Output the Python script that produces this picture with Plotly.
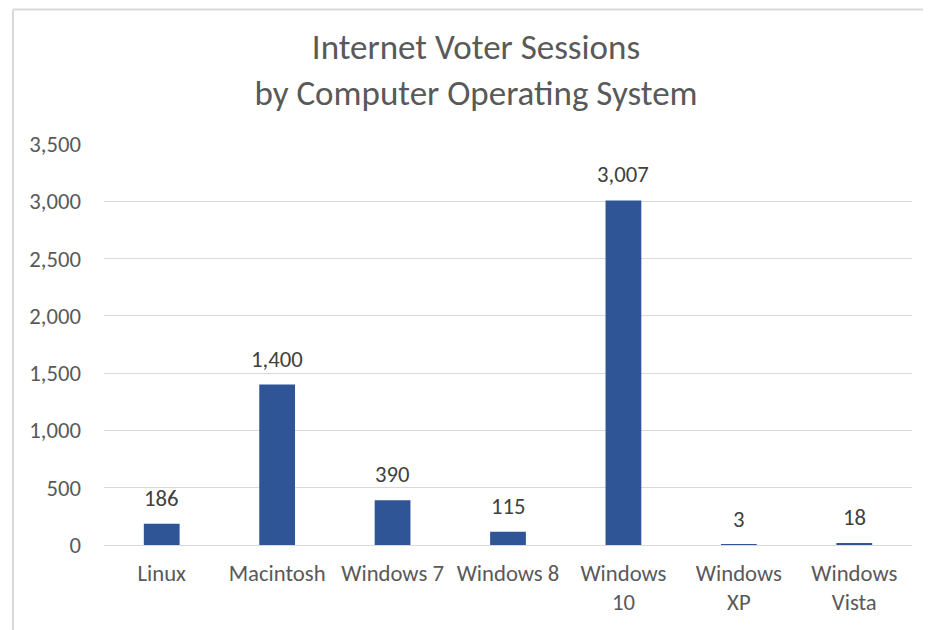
import plotly.graph_objects as go

categories = ["Linux", "Macintosh", "Windows 7", "Windows 8", "Windows<br>10", "Windows<br>XP", "Windows<br>Vista"]
sessions = [186, 1400, 390, 115, 3007, 3, 18]
tick_vals = [0, 500, 1000, 1500, 2000, 2500, 3000, 3500]

# page has an 8px body offset; margins compensate for it
OFF = 8
W, H = 931, 630
ML, MT = 104 - OFF, 144 - OFF
PW, PH = 808, 401
MR = W - ML - PW
MB = H - MT - PH

text_color = "#595959"
font_family = "Carlito, Calibri, 'Liberation Sans', Arial, sans-serif"
fs = 22.7

fig = go.Figure(go.Bar(
    x=categories,
    y=sessions,
    marker=dict(color="#2F5597", line=dict(width=0)),
    width=0.31,
    hoverinfo="x+y",
))

for c, v in zip(categories, sessions):
    fig.add_annotation(
        x=c, y=v, xref="x", yref="y",
        text=f"{v:,}", showarrow=False,
        yanchor="bottom", yshift=10,
        font=dict(size=fs, color="#404040", family=font_family),
    )

fig.update_layout(
    width=W, height=H,
    margin=dict(l=ML, r=MR, t=MT, b=MB),
    paper_bgcolor="white",
    plot_bgcolor="white",
    showlegend=False,
    title=dict(
        text="Internet Voter Sessions<br>by Computer Operating System",
        x=(476 - OFF - ML) / PW, xref="paper", xanchor="center",
        y=1 - 51 / H, yref="container", yanchor="middle",
        font=dict(size=35, color=text_color, family=font_family),
    ),
    xaxis=dict(
        showgrid=False, showline=False, zeroline=False,
        tickfont=dict(size=fs, color=text_color, family=font_family),
        ticks="", ticklen=0, ticklabelstandoff=12,
    ),
    yaxis=dict(
        range=[0, 3500], autorange=False,
        tickvals=tick_vals,
        ticktext=[f"{v:,}" for v in tick_vals],
        showgrid=True, gridcolor="#D9D9D9", gridwidth=1.3,
        zeroline=True, zerolinecolor="#D9D9D9", zerolinewidth=1.3,
        showline=False,
        tickfont=dict(size=fs, color=text_color, family=font_family),
        ticks="", ticklabelstandoff=22,
    ),
    bargap=0.69,
)

# chart-area border: only the top and left edges are visible in the crop
x0 = (13 - OFF - ML) / PW
y_top = 1 + (MT - 1.5) / PH
y_bot = -(MB + 20) / PH
x_far = 1 + (MR + 40) / PW
border = dict(color="#D9D9D9", width=2)
fig.add_shape(type="line", xref="paper", yref="paper",
              x0=x0, x1=x0, y0=y_bot, y1=y_top, line=border, layer="below")
fig.add_shape(type="line", xref="paper", yref="paper",
              x0=x0, x1=x_far, y0=y_top, y1=y_top, line=border, layer="below")

fig.write_html("out.html")
